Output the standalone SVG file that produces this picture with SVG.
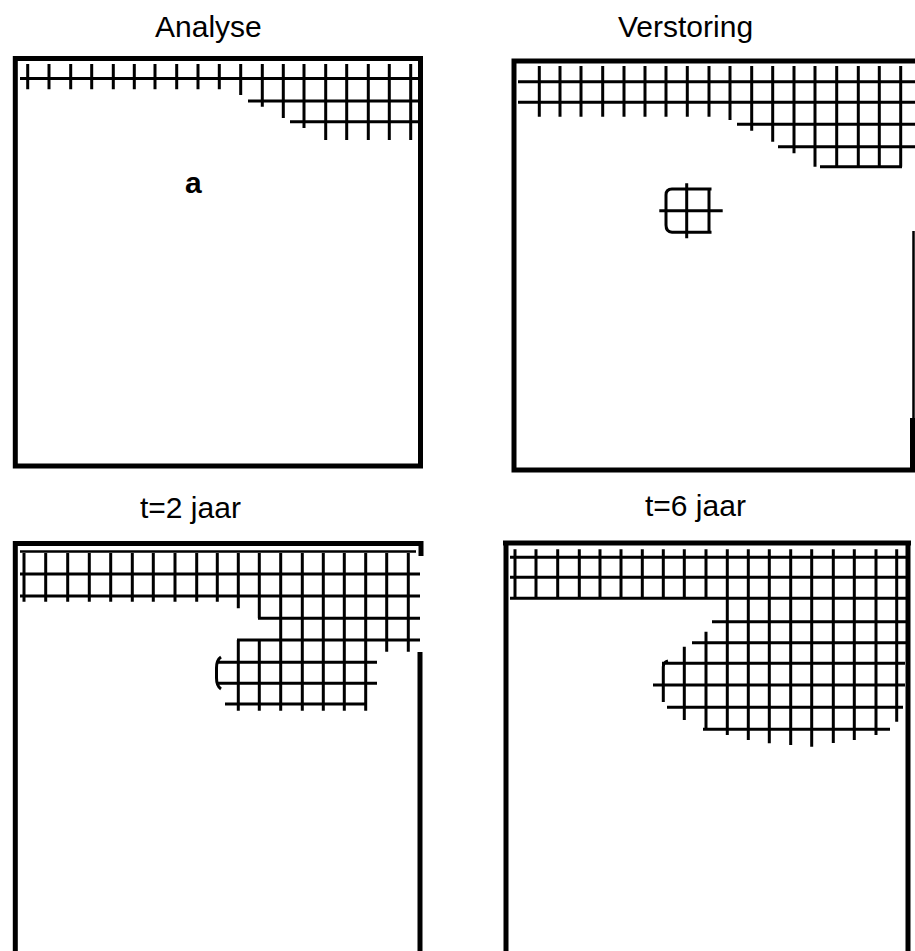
<svg xmlns="http://www.w3.org/2000/svg" width="915" height="951" viewBox="0 0 915 951">
<style>
.frame{fill:none;stroke:#000;stroke-width:5}
.grid{fill:none;stroke:#000;stroke-width:3}
.thin{fill:none;stroke:#000;stroke-width:2.5}
.title{font-family:"Liberation Sans",Arial,sans-serif;font-size:30px;fill:#000}
.lbl{font-family:"Liberation Sans",Arial,sans-serif;font-size:30px;font-weight:bold;fill:#000}
</style>
<rect width="915" height="951" fill="#fff"/>
<g id="panel-analyse">
<text class="title" x="155" y="37">Analyse</text>
<path class="frame" d="M13 58.5H423M15.3 56V468.5M420.5 56V468.5M13 466H423"/>
<path class="grid" d="M20 78.5H420M248 101H420M290 121.7H420
M27.7 64V89.3M49 64V89.3M70.7 64V89.3M91.7 64V89.3M113.3 64V89.3M134.3 64V89.3M155 64V89.3M176.7 64V89.3M198 64V89.3M219.3 64V89.3
M240.7 64V95M262.3 64V106.7M283.3 64V118M304 64V128
M325.7 64V140M346.7 64V140M368.3 64V140M389.3 64V140M410.7 64V140"/>
<text class="lbl" x="185" y="193">a</text>
</g>
<g id="panel-verstoring">
<text class="title" x="618" y="37">Verstoring</text>
<path class="frame" d="M511.7 61H915M514 58.5V472.5M511.7 470H915"/>
<path class="thin" d="M913.5 231V420"/>
<path class="frame" d="M912.5 418V472"/>
<path class="grid" d="M518 81.7H915M518 102.3H915M737 124.3H915M778 146.7H915M820 166.7H902
M539.3 66V116.7M560 66V116.7M581 66V116.7M602.7 66V116.7M624 66V116.7M645 66V116.7M666 66V116.7M687.3 66V116.7M709 66V116.7
M730 66V120M751.7 66V130.7M772.7 66V141.7M794 66V153.3
M815 66V166.7M836.7 66V166.7M858.3 66V166.7M879.3 66V166.7M900.7 66V166.7"/>
<g id="disturbance">
<path class="grid" d="M711.5 189H672Q666 189 666 195V225Q666 232 672 232.3H711.5M709 188V233.3M686.7 183.3V238.3M659.3 210.7H722.7"/>
</g>
</g>
<g id="panel-t2">
<text class="title" x="140" y="518">t=2 jaar</text>
<path class="frame" d="M13 543.5H423M15.3 541V951M421 541V556M420 652V951"/>
<path class="thin" d="M20 551.5H416"/>
<path class="grid" d="M20 574H420M20 596H420M258 618.3H420M237 640H420M217 662.3H377M217 683.3H377M225 704H367
M24 553V601.7M45.7 553V601.7M67.7 553V601.7M89.3 553V601.7M110.7 553V601.7M132.3 553V601.7M153.3 553V601.7M175 553V601.7M196.7 553V601.7M217.3 553V601.7
M238.3 553V608.3M238.3 640V710.7M259.3 553V618.3M259.3 640V710.7
M280.7 553V710.7M302.3 553V710.7M323.3 553V710.7M344.3 553V710.7M365.7 553V710.7
M386.7 553V651.7M408.3 553V651.7
M221 657Q216.5 660 216.5 668V678Q216.5 686 221 689"/>
</g>
<g id="panel-t6">
<text class="title" x="645" y="516">t=6 jaar</text>
<path class="frame" d="M503 543H911M506 541V951M908 541V951"/>
<path class="grid" d="M510 557.3H910M510 577.3H910M510 598.3H910M712 621.7H908M692 642.7H908M662 663.3H905M653 685H905M667 707.3H903M703 729.3H890
M515 549.3V598.3M536 549.3V598.3M557.7 549.3V598.3M579.3 549.3V598.3M600 549.3V598.3M621 549.3V598.3M642.3 549.3V598.3M663.3 549.3V598.3M684.3 549.3V598.3M706 549.3V598.3
M668 661Q663.3 662 663.3 667V702M684.3 646.7V720M706 631.7V729.3
M727.3 549.3V735M748.3 549.3V740M769.3 549.3V743.3M790.7 549.3V745M811.7 549.3V746.7M833.3 549.3V743M854.3 549.3V740M876 549.3V735M896.7 549.3V721.7"/>
</g>
<g id="connectors"></g>
</svg>
